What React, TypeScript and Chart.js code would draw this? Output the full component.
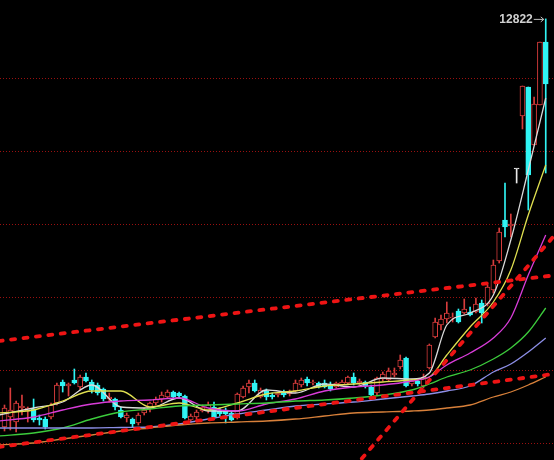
import React, { useEffect, useRef } from "react";
import { Chart, registerables } from "chart.js";
Chart.register(...registerables);

// ---- Candles (index 0..93) ----
const opens = [
  4660, 4860, 4760, 5040, 4980, 5020, 4840, 4820, 4860, 5140,
  5560, 5480, 5600, 5460, 5660, 5560, 5500, 5420, 5220, 5220,
  5000, 4840, 4820, 4740, 4940, 5020, 5140, 5220, 5260, 5360,
  5340, 5280, 4800, 4860, 4980, 4980, 5060, 4980, 5000, 4940,
  4840, 5260, 5460, 5540, 5260, 5380, 5300, 5300, 5360, 5320,
  5380, 5500, 5620, 5540, 5540, 5540, 5480, 5460, 5500, 5540,
  5660, 5540, 5560, 5460, 5340, 5620, 5600, 5700, 5860, 6040,
  5520, 5580, 5480, 5840, 6460, 6700, 6820, 6840, 6980, 6940,
  6960, 6960, 7140, 7120, 7400, 7980, 8800, 8680, 9820, 10880,
  11460, 10300, 11100, 12360,
];
const closes = [
  5040, 5000, 5140, 5080, 5040, 4800, 4800, 4660, 5100, 5500,
  5480, 5520, 5540, 5660, 5580, 5400, 5340, 5220, 5260, 5060,
  4860, 4900, 4720, 4900, 5000, 5140, 5220, 5300, 5360, 5260,
  5280, 4840, 4880, 4960, 5060, 5100, 4860, 4920, 4920, 4800,
  5320, 5440, 5540, 5380, 5400, 5260, 5260, 5340, 5300, 5360,
  5540, 5600, 5540, 5560, 5460, 5460, 5420, 5540, 5560, 5660,
  5540, 5580, 5480, 5300, 5640, 5720, 5780, 5740, 6000, 5480,
  5580, 5520, 5660, 6300, 6760, 6820, 6940, 6860, 6760, 7020,
  6900, 7120, 6940, 7460, 7900, 8560, 8660, 8720, 9820, 11480,
  9700, 11120, 12360, 11520,
];
const highs = [
  5100, 5440, 5180, 5300, 5060, 5220, 4900, 4860, 5140, 5540,
  5600, 5540, 5820, 5700, 5740, 5600, 5540, 5440, 5340, 5240,
  5060, 4940, 4840, 4940, 5040, 5160, 5260, 5360, 5400, 5380,
  5360, 5300, 4920, 5000, 5100, 5160, 5160, 5040, 5040, 4980,
  5340, 5480, 5600, 5600, 5440, 5420, 5340, 5360, 5400, 5400,
  5600, 5640, 5660, 5600, 5560, 5600, 5560, 5560, 5600, 5680,
  5740, 5620, 5580, 5500, 5660, 5760, 5840, 5840, 6100, 6060,
  5620, 5600, 5720, 6320, 6840, 6900, 7160, 6940, 7020, 7220,
  7060, 7240, 7200, 7500, 8000, 8640, 9540, 8920, 9820, 11480,
  11460, 11260, 12360, 12822,
];
const lows = [
  4580, 4600, 4560, 4900, 4760, 4760, 4700, 4620, 4820, 5100,
  5360, 5280, 5520, 5400, 5560, 5340, 5300, 5180, 5160, 5000,
  4840, 4760, 4660, 4700, 4900, 4960, 5100, 5160, 5240, 5240,
  5240, 4820, 4760, 4820, 4960, 4940, 4840, 4880, 4740, 4780,
  4820, 5240, 5340, 5360, 5240, 5200, 5220, 5260, 5260, 5280,
  5360, 5460, 5480, 5500, 5440, 5440, 5380, 5440, 5480, 5520,
  5500, 5500, 5440, 5260, 5300, 5580, 5580, 5660, 5820, 5460,
  5480, 5480, 5440, 5820, 6440, 6600, 6740, 6760, 6740, 6920,
  6880, 6940, 6740, 7080, 7340, 7940, 8460, 8460, 9540, 10620,
  9000, 10300, 11100, 9740,
];

// ---- Moving averages, read at these candle indices ----
const maIdx = [-1, 5, 10, 15, 20, 25, 30, 35, 40, 45, 50, 55, 60, 65, 70, 73, 76, 80, 84, 87, 90, 93];
const ma5 = [4900, 5040, 5160, 5500, 5060, 5040, 5240, 4980, 4980, 5400, 5340, 5520, 5460, 5640, 5620, 5740, 6700, 6940, 7300, 8400, 9800, 11240];
const ma10 = [4940, 5000, 5180, 5380, 5380, 5060, 5140, 5000, 5140, 5320, 5380, 5480, 5520, 5560, 5600, 5660, 6100, 6660, 7160, 7800, 8900, 9900];
const ma20 = [4780, 4860, 5000, 5120, 5180, 5200, 5240, 5040, 4980, 5120, 5220, 5380, 5460, 5500, 5580, 5660, 5900, 6140, 6440, 6840, 7700, 8500];
const ma30 = [4480, 4540, 4640, 4820, 4960, 5020, 5080, 5100, 5120, 5140, 5180, 5200, 5240, 5300, 5400, 5520, 5660, 5800, 6020, 6240, 6560, 7040];
const ma60 = [4640, 4640, 4640, 4640, 4650, 4660, 4720, 4820, 4920, 5000, 5080, 5120, 5160, 5220, 5280, 5320, 5380, 5480, 5760, 5920, 6160, 6440];
const ma120 = [4300, 4340, 4420, 4500, 4580, 4640, 4700, 4740, 4760, 4780, 4820, 4880, 4940, 4960, 4980, 5000, 5040, 5100, 5260, 5360, 5500, 5660];

// ---- Trend lines (index, price) endpoints ----
const upperTrendX = [-1, 95];
const upperTrendY = [6380, 7700];
const lowerTrendX = [-1, 95];
const lowerTrendY = [4260, 5730];
const steepTrendX = [60, 95];
const steepTrendY = [3840, 8560];

// ---- Horizontal reference levels ----
const gridLevels = [4340, 5800, 7260, 8720, 10180, 11640];

const RED = "#d83c3c";
const CYAN = "#30f4f4";
const WHITE = "#e8e8e8";

const colorOf = (i: number) =>
  closes[i] > opens[i] ? RED : closes[i] < opens[i] ? CYAN : WHITE;

const gridPlugin = {
  id: "gridLevels",
  beforeDatasetsDraw(chart: any) {
    const { ctx, chartArea, scales } = chart;
    ctx.save();
    ctx.strokeStyle = "#9a1010";
    ctx.lineWidth = 1;
    ctx.setLineDash([1, 2]);
    gridLevels.forEach((v) => {
      const y = Math.round(scales.y.getPixelForValue(v)) + 0.5;
      ctx.beginPath();
      ctx.moveTo(chartArea.left, y);
      ctx.lineTo(chartArea.right, y);
      ctx.stroke();
    });
    ctx.restore();
  },
};

const maxLabelPlugin = {
  id: "maxLabel",
  afterDatasetsDraw(chart: any) {
    const { ctx, scales } = chart;
    let mi = 0;
    highs.forEach((h, i) => {
      if (h > highs[mi]) mi = i;
    });
    const x = scales.x.getPixelForValue(mi);
    const y = scales.y.getPixelForValue(highs[mi]);
    ctx.save();
    ctx.fillStyle = "#d0d0d0";
    ctx.strokeStyle = "#c0c0c0";
    ctx.font = "bold 12px 'Liberation Sans', Arial, sans-serif";
    ctx.textAlign = "right";
    ctx.textBaseline = "middle";
    ctx.fillText(String(highs[mi]), x - 13, y + 0.5);
    ctx.lineWidth = 1;
    ctx.beginPath();
    ctx.moveTo(x - 12, y + 0.5);
    ctx.lineTo(x - 2, y + 0.5);
    ctx.stroke();
    ctx.beginPath();
    ctx.moveTo(x - 5, y - 2);
    ctx.lineTo(x - 2, y + 0.5);
    ctx.lineTo(x - 5, y + 3);
    ctx.stroke();
    ctx.restore();
  },
};

export default function App() {
  const ref = useRef<HTMLCanvasElement | null>(null);
  useEffect(() => {
    document.body.style.margin = "0";
    document.body.style.background = "#000";
    const canvas = ref.current;
    if (!canvas) return;

    const idx = opens.map((_, i) => i);
    const maLine = (vals: number[], color: string) => ({
      type: "line" as const,
      data: maIdx.map((x, k) => ({ x, y: vals[k] })),
      borderColor: color,
      borderWidth: 1.3,
      pointRadius: 0,
      cubicInterpolationMode: "monotone" as const,
      order: 1,
    });
    const trend = (xs: number[], ys: number[]) => ({
      type: "line" as const,
      data: xs.map((x, k) => ({ x, y: ys[k] })),
      borderColor: "#ee1414",
      borderWidth: 3.8,
      borderDash: [4, 8.5],
      borderCapStyle: "round" as const,
      pointRadius: 0,
      order: 0,
    });

    const chart = new Chart(canvas, {
      type: "bar",
      data: {
        datasets: [
          {
            type: "bar",
            data: idx.map((i) => ({ x: i, y: [lows[i], highs[i]] })),
            backgroundColor: idx.map((i) => colorOf(i)),
            borderWidth: 0,
            barThickness: 1,
            grouped: false,
            order: 3,
          } as any,
          {
            type: "bar",
            data: idx.map((i) => ({ x: i, y: [opens[i], closes[i]] })),
            backgroundColor: idx.map((i) => (closes[i] > opens[i] ? "#000" : colorOf(i))),
            borderColor: idx.map((i) => colorOf(i)),
            borderWidth: 1,
            borderSkipped: false,
            barThickness: 5,
            minBarLength: 1,
            grouped: false,
            order: 2,
          } as any,
          maLine(ma120, "#d8803a"),
          maLine(ma60, "#8c8ee6"),
          maLine(ma30, "#3ccc3c"),
          maLine(ma20, "#d83cd8"),
          maLine(ma10, "#e0e050"),
          maLine(ma5, "#dadada"),
          trend(upperTrendX, upperTrendY),
          trend(lowerTrendX, lowerTrendY),
          trend(steepTrendX, steepTrendY),
        ] as any,
      },
      options: {
        animation: false,
        responsive: false,
        devicePixelRatio: 1,
        layout: { padding: 0 },
        plugins: { legend: { display: false }, tooltip: { enabled: false } },
        scales: {
          x: { type: "linear", min: -0.773, max: 94.42, offset: false, display: false },
          y: { type: "linear", min: 4000, max: 13200, display: false },
        },
      },
      plugins: [gridPlugin, maxLabelPlugin],
    });
    return () => chart.destroy();
  }, []);

  return (
    <div style={{ position: "fixed", left: 0, top: 0, width: 554, height: 460, background: "#000" }}>
      <canvas ref={ref} width={554} height={460} style={{ display: "block" }} />
    </div>
  );
}
